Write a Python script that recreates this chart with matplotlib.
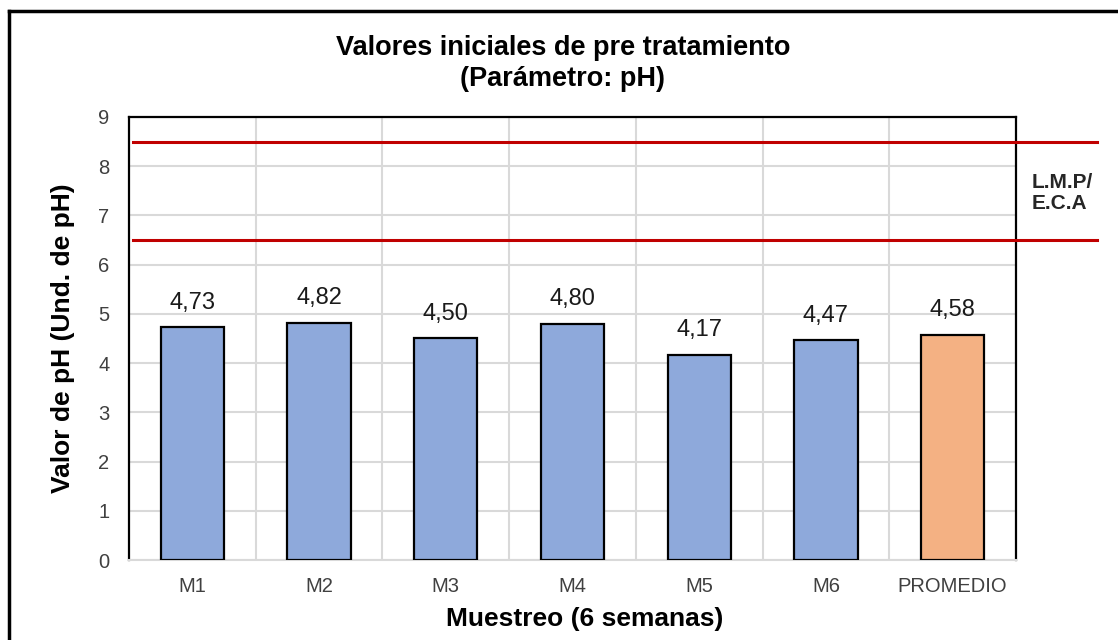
import matplotlib.pyplot as plt
from matplotlib.lines import Line2D

plt.rcParams['font.family'] = ['Liberation Sans', 'DejaVu Sans']

muestras = ["M1", "M2", "M3", "M4", "M5", "M6", "PROMEDIO"]
ph = [4.73, 4.82, 4.50, 4.80, 4.17, 4.47, 4.58]
colores = ["#8EA9DB"] * 6 + ["#F4B183"]
limite_sup = 8.5
limite_inf = 6.5

fig = plt.figure(figsize=(11.18, 6.4), dpi=100)
ax = fig.add_axes([0.1154, 0.125, 0.7934, 0.6922])

x = list(range(len(muestras)))
ax.bar(x, ph, width=0.5, color=colores, edgecolor="black", linewidth=1.6, zorder=3)

for xi, v in zip(x, ph):
    ax.text(xi, v + 0.27, f"{v:.2f}".replace(".", ","), ha="center", va="bottom",
            fontsize=17, color="#1a1a1a")

# limites permisibles
for lim in [limite_sup, limite_inf]:
    ax.axhline(lim, xmin=0.005, xmax=1.091, color="#C00000", linewidth=2.2,
               clip_on=False, zorder=4)
ax.text(1.018, 0.828, "L.M.P/\nE.C.A", transform=ax.transAxes,
        fontsize=15, fontweight="bold", color="#262626", va="center", ha="left",
        linespacing=1.15)

ax.set_xlim(-0.5, len(muestras) - 0.5)
ax.set_ylim(0, 9)
ax.set_yticks(range(0, 10))
ax.set_xticks(x)
ax.set_xticklabels(muestras)
ax.set_xticks([i + 0.5 for i in x[:-1]], minor=True)
ax.tick_params(axis="both", which="both", length=0, labelsize=14.5, colors="#404040")
ax.tick_params(axis="x", pad=12)
ax.tick_params(axis="y", pad=14)
ax.grid(True, axis="y", color="#D9D9D9", linewidth=1.5, zorder=0)
ax.grid(True, axis="x", which="minor", color="#D9D9D9", linewidth=1.5, zorder=0)

for side in ["left", "top", "right"]:
    ax.spines[side].set_color("black")
    ax.spines[side].set_linewidth(1.6)
ax.spines["bottom"].set_color("#D9D9D9")
ax.spines["bottom"].set_linewidth(1.5)

ax.set_title("Valores iniciales de pre tratamiento\n(Parámetro: pH)", fontsize=19.5,
             fontweight="bold", pad=22, linespacing=1.25, x=0.489)
ax.set_xlabel("Muestreo (6 semanas)", fontsize=19, fontweight="bold")
ax.xaxis.set_label_coords(0.514, -0.105)
ax.set_ylabel("Valor de pH (Und. de pH)", fontsize=19, fontweight="bold", labelpad=17)

# marco del grafico
fig.add_artist(Line2D([9 / 1118, 9 / 1118], [0, 1 - 11 / 640], color="black", linewidth=2.5))
fig.add_artist(Line2D([9 / 1118, 1], [1 - 11 / 640, 1 - 11 / 640], color="black", linewidth=2.5))

fig.savefig("out.png", dpi=100)
